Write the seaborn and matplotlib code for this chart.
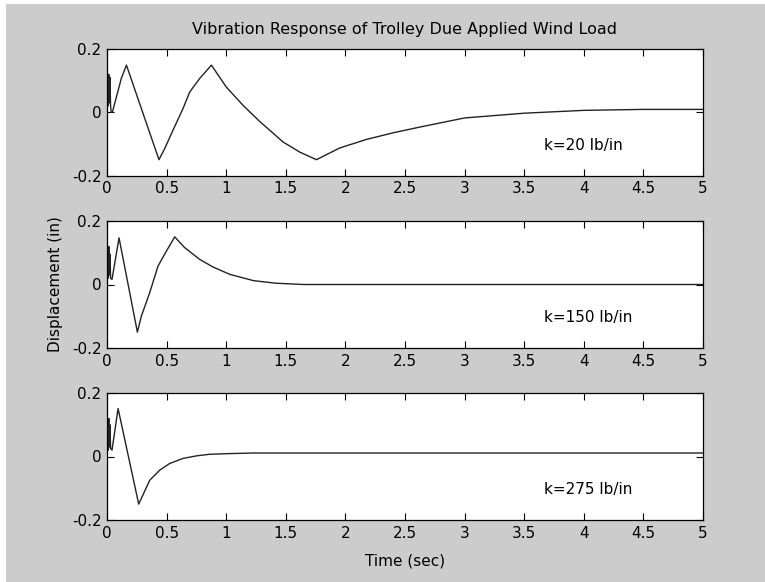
import numpy as np
import pandas as pd
import matplotlib
matplotlib.use("Agg")
import matplotlib.pyplot as plt
from matplotlib.patches import Rectangle
import seaborn as sns

# Displacement responses (in) versus time (sec) for three spring rates
t_k20 = [0.0, 0.005, 0.01, 0.015, 0.02, 0.025, 0.03, 0.035, 0.045, 0.12, 0.163,
         0.288, 0.436, 0.484, 0.54, 0.638, 0.694, 0.778, 0.876, 1.0, 1.141, 1.281,
         1.477, 1.617, 1.757, 1.952, 2.176, 2.40, 2.623, 3.0, 3.5, 4.0, 4.5, 5.0]
x_k20 = [0.0, 0.07, 0.02, 0.12, 0.03, 0.11, 0.02, 0.0, 0.0, 0.107, 0.149,
         0.012, -0.150, -0.115, -0.068, 0.012, 0.064, 0.107, 0.149, 0.080, 0.022, -0.029,
         -0.094, -0.126, -0.150, -0.113, -0.086, -0.065, -0.047, -0.018, -0.003, 0.006, 0.009, 0.009]

t_k150 = [0.0, 0.005, 0.01, 0.015, 0.02, 0.025, 0.03, 0.042, 0.101, 0.255, 0.288,
          0.358, 0.428, 0.498, 0.568, 0.652, 0.778, 0.89, 1.03, 1.23, 1.42, 1.65,
          2.0, 3.0, 4.0, 5.0]
x_k150 = [0.0, 0.065, 0.02, 0.12, 0.03, 0.095, 0.02, 0.016, 0.147, -0.150, -0.100,
          -0.026, 0.058, 0.105, 0.150, 0.116, 0.079, 0.055, 0.032, 0.012, 0.004, 0.0,
          0.0, 0.0, 0.0, 0.0]

t_k275 = [0.0, 0.005, 0.01, 0.015, 0.02, 0.025, 0.03, 0.042, 0.093, 0.266, 0.358,
          0.442, 0.526, 0.638, 0.75, 0.862, 1.015, 1.23, 2.0, 3.0, 4.0, 5.0]
x_k275 = [0.0, 0.065, 0.02, 0.12, 0.03, 0.10, 0.025, 0.02, 0.151, -0.150, -0.075,
          -0.043, -0.022, -0.006, 0.002, 0.007, 0.009, 0.011, 0.011, 0.011, 0.011, 0.011]

spring_labels = ["k=20 lb/in", "k=150 lb/in", "k=275 lb/in"]
x_ticks = [0, 0.5, 1, 1.5, 2, 2.5, 3, 3.5, 4, 4.5, 5]
x_tick_labels = ["0", "0.5", "1", "1.5", "2", "2.5", "3", "3.5", "4", "4.5", "5"]
y_ticks = [-0.2, 0, 0.2]
y_tick_labels = ["-0.2", "0", "0.2"]

frames = [
    pd.DataFrame({"time": t, "disp": x, "spring": lab})
    for t, x, lab in zip([t_k20, t_k150, t_k275], [x_k20, x_k150, x_k275], spring_labels)
]

sns.set_theme(style="ticks")
plt.rcParams["font.family"] = ["DejaVu Sans"]
plt.rcParams["font.size"] = 11

W, H = 765, 582
bg = "#cccccc"
fig = plt.figure(figsize=(W / 100, H / 100), dpi=100, facecolor=bg)

# thin white window margin along the left and top edges
fig.patches.append(Rectangle((0, 0), 6 / W, 1, transform=fig.transFigure,
                             facecolor="white", edgecolor="none", zorder=-1))
fig.patches.append(Rectangle((0, 1 - 4 / H), 1, 4 / H, transform=fig.transFigure,
                             facecolor="white", edgecolor="none", zorder=-1))

# axes boxes in pixels: (left, top, right, bottom)
boxes = [(107, 49, 703, 175.5), (107, 221, 703, 348), (107, 393, 703, 520)]
axes = []
for (l, t, r, b) in boxes:
    ax = fig.add_axes([l / W, 1 - b / H, (r - l) / W, (b - t) / H])
    axes.append(ax)

for ax, df, lab in zip(axes, frames, spring_labels):
    ax.set_facecolor("white")
    sns.lineplot(data=df, x="time", y="disp", ax=ax, color="#222222", linewidth=1.0,
                 sort=False, estimator=None, legend=False)
    ax.set_xlim(0, 5)
    ax.set_ylim(-0.2, 0.2)
    ax.set_xticks(x_ticks)
    ax.set_xticklabels(x_tick_labels)
    ax.set_yticks(y_ticks)
    ax.set_yticklabels(y_tick_labels)
    ax.tick_params(direction="in", length=5, width=0.8, top=True, right=True,
                   labelsize=11, colors="black", pad=4)
    for s in ax.spines.values():
        s.set_visible(True)
        s.set_color("black")
        s.set_linewidth(0.9)
    ax.set_xlabel("")
    ax.set_ylabel("")
    ax.text(3.67, -0.105, lab, fontsize=11, ha="left", va="center", color="black")

axes[0].set_title("Vibration Response of Trolley Due Applied Wind Load",
                  fontsize=11.5, pad=11, color="black")
axes[1].set_ylabel("Displacement (in)", fontsize=11, labelpad=6, color="black")
axes[2].set_xlabel("Time (sec)", fontsize=11, labelpad=9, color="black")

fig.savefig("out.png", dpi=100, facecolor=bg)
